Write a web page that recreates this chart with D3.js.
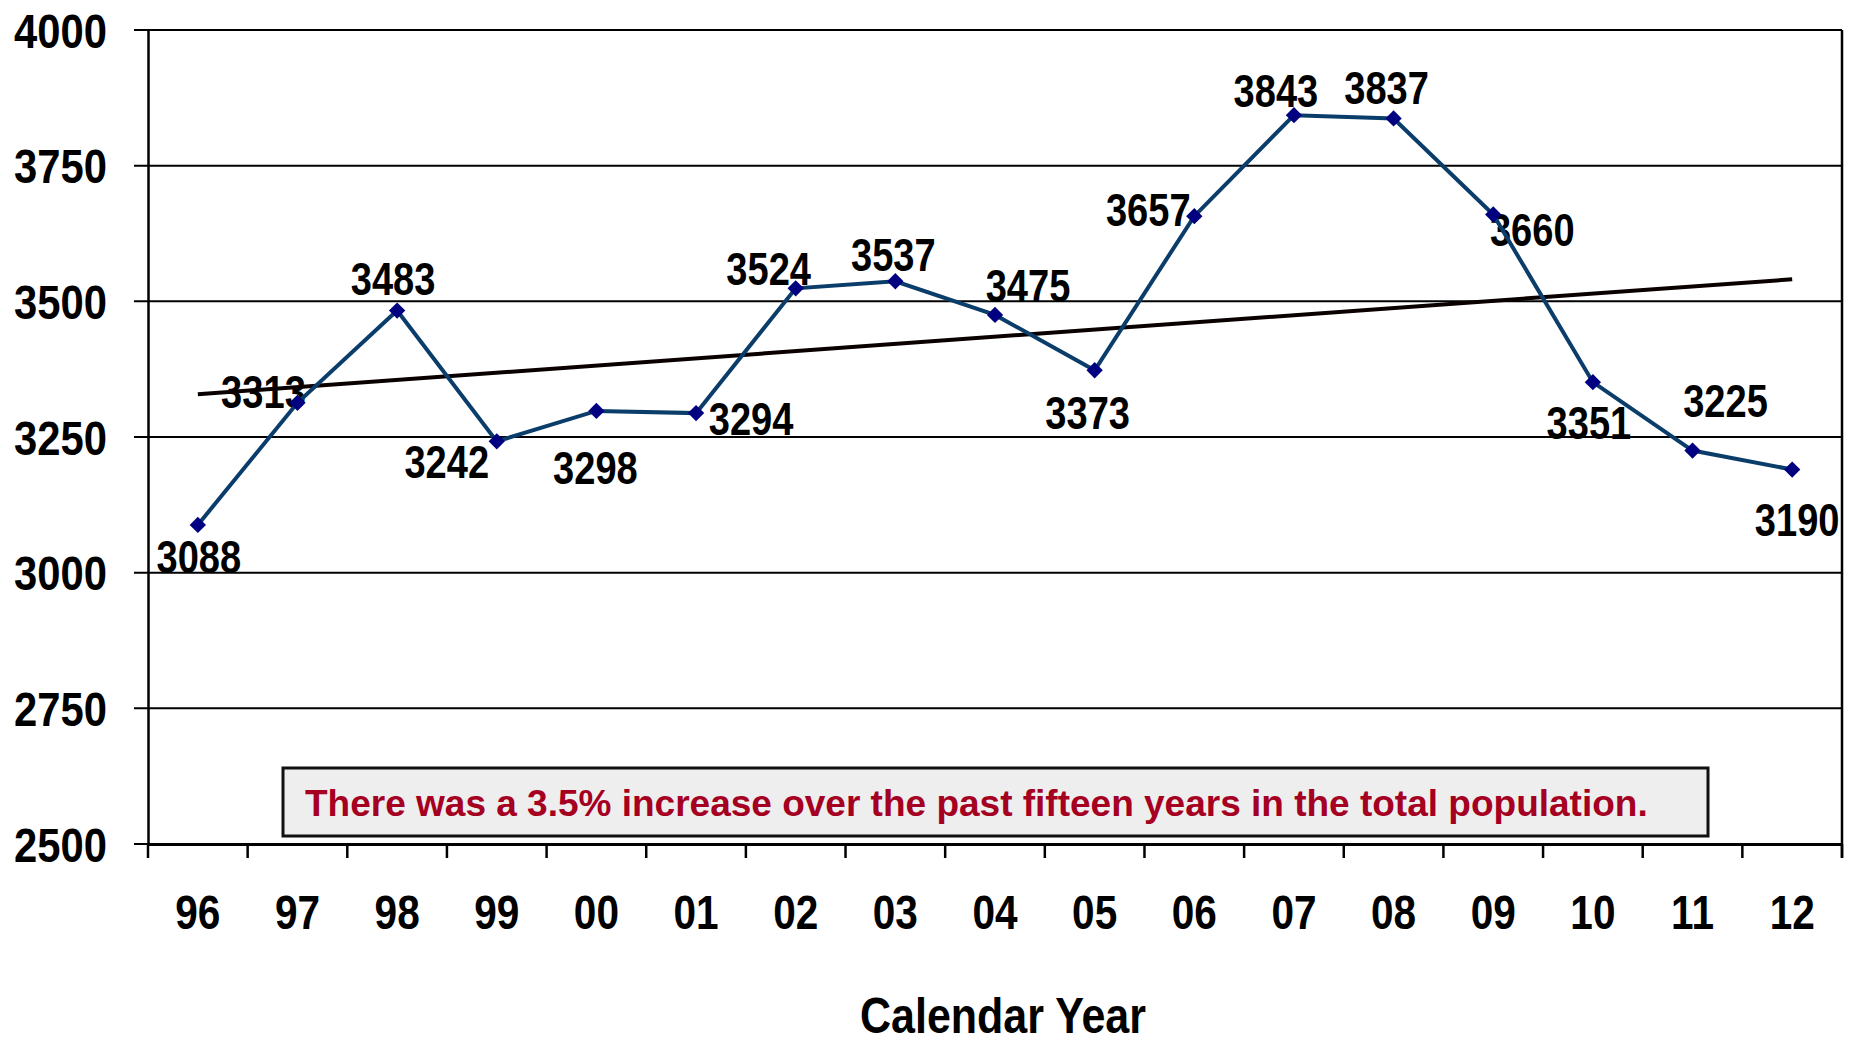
<!DOCTYPE html>
<html>
<head>
<meta charset="utf-8">
<script src="https://cdn.jsdelivr.net/npm/d3@7"></script>
<style>
  body { margin: 0; background: #fff; }
  svg { display: block; }
  .narrow { font-family: "Liberation Sans", Arial, sans-serif; font-weight: bold; }
</style>
</head>
<body>
<div class="container"></div>
<script>
var width = 1862;
var height = 1043;
var margin = {top: 30, right: 20, bottom: 199, left: 148};

// data
var years = ["96","97","98","99","00","01","02","03","04","05","06","07","08","09","10","11","12"];
var population = [3088, 3313, 3483, 3242, 3298, 3294, 3524, 3537, 3475, 3373, 3657, 3843, 3837, 3660, 3351, 3225, 3190];
var yTicks = [2500, 2750, 3000, 3250, 3500, 3750, 4000];
var note = "There was a 3.5% increase over the past fifteen years in the total population.";
var xTitle = "Calendar Year";

// label placement (dx, dy from the point, px)
var labelOffsets = [[1,31],[-34,-12],[-4,-32],[-50,20],[-1,56],[55,5],[-27,-20],[-2,-27],
                    [33,-30],[-7,42],[-46,-7],[-18,-25],[-7,-31],[39,15],[-4,40],[33,-50],[5,50]];

var xScale = d3.scaleBand().domain(years).range([margin.left, width - margin.right]);
var yScale = d3.scaleLinear().domain([2500, 4000]).range([height - margin.bottom, margin.top]);

var svg = d3.select(".container").append("svg")
  .attr("width", width).attr("height", height);

// squeeze text horizontally to look like a narrow face
function squeeze(sel, factor){
  sel.each(function(){
    var len = this.getComputedTextLength();
    d3.select(this).attr("textLength", len * factor).attr("lengthAdjust", "spacingAndGlyphs");
  });
}

// gridlines
svg.append("g")
  .selectAll("line")
  .data(yTicks)
  .enter().append("line")
  .attr("x1", margin.left - 14)
  .attr("x2", width - margin.right)
  .attr("y1", d => yScale(d))
  .attr("y2", d => yScale(d))
  .attr("stroke", "#000")
  .attr("stroke-width", 2);

// right border
svg.append("line")
  .attr("x1", width - margin.right).attr("x2", width - margin.right)
  .attr("y1", yScale(4000)).attr("y2", yScale(2500) + 14)
  .attr("stroke", "#000").attr("stroke-width", 2.5);

// y axis
var yAxis = d3.axisLeft(yScale).tickValues(yTicks).tickSize(0).tickPadding(41).tickFormat(d3.format("d"));
var gy = svg.append("g").attr("transform", "translate(" + margin.left + ",0)").call(yAxis);
gy.select(".domain").attr("stroke", "#000").attr("stroke-width", 2.5);
gy.selectAll("text").attr("class", "narrow").attr("font-family", null).attr("font-size", null)
  .style("font-size", "48px").attr("fill", "#000").attr("dy", "0.36em");
squeeze(gy.selectAll("text"), 0.87);

// x axis
var xAxis = d3.axisBottom(xScale).tickSize(0).tickPadding(51);
var gx = svg.append("g").attr("transform", "translate(0," + yScale(2500) + ")").call(xAxis);
gx.select(".domain").attr("stroke", "#000").attr("stroke-width", 3);
gx.selectAll("text").attr("class", "narrow").style("font-size", "48px").attr("fill", "#000");
squeeze(gx.selectAll("text"), 0.845);

// category boundary ticks
svg.append("g")
  .selectAll("line")
  .data(years.concat(["end"]))
  .enter().append("line")
  .attr("x1", (d, i) => margin.left + i * xScale.step())
  .attr("x2", (d, i) => margin.left + i * xScale.step())
  .attr("y1", yScale(2500))
  .attr("y2", yScale(2500) + 14)
  .attr("stroke", "#000").attr("stroke-width", 2.5);

var title = svg.append("text")
  .attr("class", "narrow")
  .attr("x", 1003).attr("y", 1033)
  .attr("text-anchor", "middle")
  .style("font-size", "50px")
  .text(xTitle);
squeeze(title, 0.86);

// annotation box
svg.append("rect")
  .attr("x", 283).attr("y", 768)
  .attr("width", 1425).attr("height", 68)
  .attr("fill", "#eeeeee").attr("stroke", "#111").attr("stroke-width", 3);
svg.append("text")
  .attr("x", 305).attr("y", 816)
  .attr("font-family", "'Liberation Sans', Arial, sans-serif")
  .attr("font-weight", "bold")
  .style("font-size", "37px")
  .attr("fill", "#a50021")
  .text(note);

var cx = (d, i) => xScale(years[i]) + xScale.bandwidth() / 2;

// data labels
var labels = svg.append("g")
  .selectAll("text")
  .data(population)
  .enter().append("text")
  .attr("class", "narrow")
  .attr("x", (d, i) => cx(d, i) + labelOffsets[i][0])
  .attr("y", (d, i) => yScale(d) + labelOffsets[i][1])
  .attr("dy", "0.36em")
  .attr("text-anchor", "middle")
  .style("font-size", "47px")
  .text(d => d);
squeeze(labels, 0.81);

// linear trend line
var n = population.length;
var xm = (n - 1) / 2;
var ym = d3.mean(population);
var slope = d3.sum(population, (d, i) => (i - xm) * (d - ym)) / d3.sum(population, (d, i) => (i - xm) * (i - xm));
svg.append("line")
  .attr("x1", cx(0, 0)).attr("y1", yScale(ym - slope * xm))
  .attr("x2", cx(0, n - 1)).attr("y2", yScale(ym + slope * xm))
  .attr("stroke", "#0a0000").attr("stroke-width", 4);

// series line
var line = d3.line().x((d, i) => cx(d, i)).y(d => yScale(d));
svg.append("path")
  .datum(population)
  .attr("d", line)
  .attr("fill", "none")
  .attr("stroke", "#0b3d6b")
  .attr("stroke-width", 4);

svg.append("g")
  .selectAll("path")
  .data(population)
  .enter().append("path")
  .attr("d", d3.symbol().type(d3.symbolDiamond2).size(170))
  .attr("transform", (d, i) => "translate(" + cx(d, i) + "," + yScale(d) + ")")
  .attr("fill", "#000080");
</script>
</body>
</html>
